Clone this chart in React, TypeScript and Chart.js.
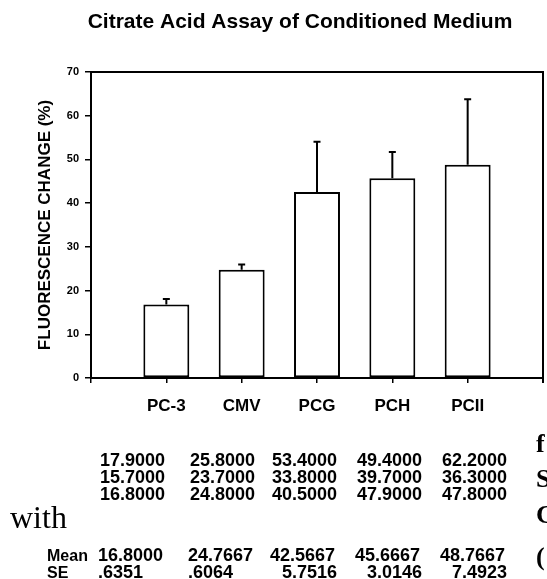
import React, { useEffect, useRef } from 'react';
import { Chart, registerables } from 'chart.js';

Chart.register(...registerables);

const titleText = 'Citrate Acid Assay of Conditioned Medium';
const yAxisTitle = 'FLUORESCENCE CHANGE (%)';
const categories = ['PC-3', 'CMV', 'PCG', 'PCH', 'PCII'];
const meanValues = [16.8, 24.7667, 42.5667, 45.6667, 48.7667];
const errorPlus = [1.27, 1.21, 11.5, 6.03, 14.98];
const yMin = 0;
const yMax = 70;
const yStep = 10;

const trialRow1 = ['17.9000', '25.8000', '53.4000', '49.4000', '62.2000'];
const trialRow2 = ['15.7000', '23.7000', '33.8000', '39.7000', '36.3000'];
const trialRow3 = ['16.8000', '24.8000', '40.5000', '47.9000', '47.8000'];
const meanRow = ['16.8000', '24.7667', '42.5667', '45.6667', '48.7667'];
const seRow = ['.6351', '.6064', '5.7516', '3.0146', '7.4923'];
const meanLabel = 'Mean';
const seLabel = 'SE';
const pageWord = 'with';
const edgeLetters = ['f', 'S', 'C', '('];

const SANS = '"Liberation Sans", Arial, sans-serif';
const SERIF = '"Liberation Serif", "Times New Roman", serif';

export default function App() {
  const canvasRef = useRef<HTMLCanvasElement | null>(null);

  useEffect(() => {
    const canvas = canvasRef.current;
    if (!canvas) return;

    const decorations = {
      id: 'decorations',
      afterDatasetsDraw(chart: any) {
        const ctx = chart.ctx;
        const xs = chart.scales.x;
        const ys = chart.scales.y;
        const area = chart.chartArea;
        ctx.save();
        ctx.strokeStyle = '#000';
        ctx.lineWidth = 2;
        meanValues.forEach((m, i) => {
          const x = xs.getPixelForValue(i + 1);
          const yb = ys.getPixelForValue(m);
          const yt = ys.getPixelForValue(m + errorPlus[i]);
          ctx.beginPath();
          ctx.moveTo(x, yb);
          ctx.lineTo(x, yt);
          ctx.moveTo(x - 3.5, yt);
          ctx.lineTo(x + 3.5, yt);
          ctx.stroke();
        });
        ctx.lineWidth = 2;
        ctx.beginPath();
        ctx.moveTo(area.left, area.top);
        ctx.lineTo(area.right, area.top);
        ctx.lineTo(area.right, area.bottom + 5);
        ctx.stroke();
        ctx.restore();
      },
      afterDraw(chart: any) {
        const ctx = chart.ctx;
        ctx.save();
        ctx.fillStyle = '#000';
        ctx.font = `bold 21px ${SANS}`;
        ctx.textAlign = 'center';
        ctx.textBaseline = 'alphabetic';
        ctx.fillText(titleText, 300, 28);

        ctx.font = `bold 18px ${SANS}`;
        const colLeft = [100, 190, 272, 357, 442];
        const colRight = colLeft.map((l) => l + 65);
        const rowsY = [466, 483, 500];
        ctx.textAlign = 'left';
        [trialRow1, trialRow2, trialRow3].forEach((row, r) => {
          row.forEach((t, c) => ctx.fillText(t, colLeft[c], rowsY[r]));
        });
        meanRow.forEach((t, c) => ctx.fillText(t, colLeft[c] - 2, 561));
        seRow.forEach((t, c) => {
          if (c < 2) {
            ctx.textAlign = 'left';
            ctx.fillText(t, colLeft[c] - 2, 578);
          } else {
            ctx.textAlign = 'right';
            ctx.fillText(t, colRight[c], 578);
          }
        });
        ctx.textAlign = 'left';
        ctx.font = `bold 16px ${SANS}`;
        ctx.fillText(meanLabel, 47, 561);
        ctx.fillText(seLabel, 47, 578);

        ctx.font = `32px ${SERIF}`;
        ctx.fillText(pageWord, 10, 528);
        ctx.font = `bold 26px ${SERIF}`;
        const edgeY = [452, 487, 523, 565];
        edgeLetters.forEach((l, i) => ctx.fillText(l, 536, edgeY[i]));
        ctx.restore();
      },
    };

    const chart = new Chart(canvas, {
      type: 'bar',
      data: {
        labels: ['', ...categories, ''],
        datasets: [
          {
            data: [null, ...meanValues, null],
            backgroundColor: '#ffffff',
            borderColor: '#000000',
            borderWidth: 2,
            borderSkipped: false,
            barPercentage: 0.61,
            categoryPercentage: 1,
          },
        ],
      },
      options: {
        responsive: false,
        animation: false,
        devicePixelRatio: 1,
        layout: { padding: { top: 72, right: 4, left: 0, bottom: 0 } },
        plugins: {
          legend: { display: false },
          tooltip: { enabled: false },
          title: { display: false },
        },
        scales: {
          x: {
            offset: false,
            grid: {
              display: true,
              offset: false,
              drawOnChartArea: false,
              drawTicks: true,
              tickLength: 5,
              color: '#000',
              lineWidth: 1.5,
            },
            border: { display: true, color: '#000', width: 2 },
            ticks: {
              color: '#000',
              font: { family: SANS, size: 17, weight: 'bold' },
              padding: 13,
              autoSkip: false,
              maxRotation: 0,
            },
            afterFit: (s: any) => {
              s.height = 201;
              s.paddingLeft = 0;
              s.paddingRight = 0;
            },
          },
          y: {
            min: yMin,
            max: yMax,
            ticks: {
              stepSize: yStep,
              color: '#000',
              font: { family: SANS, size: 11, weight: 'bold' },
              padding: 6,
            },
            grid: {
              drawOnChartArea: false,
              drawTicks: true,
              tickLength: 6,
              color: '#000',
              lineWidth: 1.5,
            },
            border: { display: true, color: '#000', width: 2 },
            title: {
              display: true,
              text: yAxisTitle,
              color: '#000',
              font: { family: SANS, size: 17, weight: 'bold' },
              padding: { top: 35, bottom: 0 },
            },
            afterFit: (s: any) => {
              s.width = 91;
            },
          },
        },
      },
      plugins: [decorations],
    } as any);

    return () => chart.destroy();
  }, []);

  return (
    <div style={{ position: 'absolute', left: 0, top: 0, width: 547, height: 579, background: '#fff' }}>
      <canvas ref={canvasRef} width={547} height={579} />
    </div>
  );
}
